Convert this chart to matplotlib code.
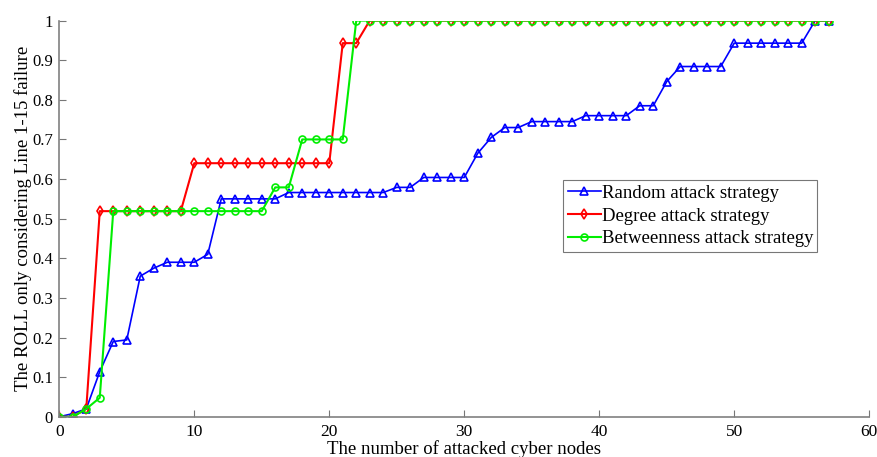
import numpy as np
import matplotlib.pyplot as plt

plt.rcParams['font.family'] = ['Liberation Serif', 'DejaVu Serif']

# attacked cyber nodes
nodes = np.arange(0, 58)

# ROLL values
random_roll = [0, 0.008, 0.02, 0.114, 0.19, 0.194, 0.355, 0.375, 0.39, 0.39,
               0.39, 0.41, 0.55, 0.55, 0.55, 0.55, 0.55, 0.566, 0.566, 0.566,
               0.566, 0.566, 0.566, 0.566, 0.566, 0.579, 0.579, 0.604, 0.604, 0.604,
               0.604, 0.665, 0.705, 0.73, 0.73, 0.745, 0.745, 0.745, 0.745, 0.76,
               0.76, 0.76, 0.76, 0.785, 0.785, 0.846, 0.884, 0.884, 0.884, 0.884,
               0.943, 0.943, 0.943, 0.943, 0.943, 0.943, 1, 1]
degree_roll = [0, 0, 0.02, 0.519, 0.519, 0.519, 0.519, 0.519, 0.519, 0.519,
               0.64, 0.64, 0.64, 0.64, 0.64, 0.64, 0.64, 0.64, 0.64, 0.64,
               0.64, 0.943, 0.943] + [1] * 35
between_roll = [0, 0, 0.02, 0.048, 0.519, 0.519, 0.519, 0.519, 0.519, 0.519,
                0.519, 0.519, 0.519, 0.519, 0.519, 0.519, 0.579, 0.579, 0.70, 0.70,
                0.70, 0.70] + [1] * 36

fig = plt.figure(figsize=(8.78, 4.57), dpi=100)
ax = fig.add_axes([0.0675, 0.088, 0.9225, 0.867])

ax.plot(nodes, random_roll, color='#0000ff', lw=1.2, marker='^', ms=6,
        mfc='none', mew=1.2, label='Random attack strategy')
ax.plot(nodes, degree_roll, color='#ff0000', lw=1.5, marker='d', ms=5,
        mfc='none', mew=1.2, label='Degree attack strategy')
ax.plot(nodes, between_roll, color='#00ee00', lw=1.5, marker='o', ms=5,
        mfc='none', mew=1.2, label='Betweenness attack strategy')

ax.set_xlim(0, 60)
ax.set_ylim(0, 1)
ax.set_xticks(np.arange(0, 61, 10))
ax.set_yticks(np.arange(0, 1.01, 0.1))
ax.set_yticklabels(['0', '0.1', '0.2', '0.3', '0.4', '0.5', '0.6', '0.7', '0.8', '0.9', '1'])
ax.tick_params(direction='in', length=5, labelsize=12, colors='#777777',
               labelcolor='black')
ax.tick_params(axis='x', pad=5.5, labelsize=12.5)
ax.tick_params(axis='y', pad=4.5)
for s in ['top', 'right']:
    ax.spines[s].set_visible(False)
for s in ['left', 'bottom']:
    ax.spines[s].set_color('#808080')
    ax.spines[s].set_linewidth(1.2)

ax.set_xlabel('The number of attacked cyber nodes', fontsize=13.5)
ax.set_ylabel('The ROLL only considering Line 1-15 failure', fontsize=13.5)
ax.xaxis.set_label_coords(0.5, -0.058)
ax.yaxis.set_label_coords(-0.034, 0.5)

leg = ax.legend(loc='lower left', bbox_to_anchor=(0.622, 0.416, 0.314, 0.182),
                mode='expand', fontsize=13.5, frameon=True, fancybox=False,
                borderpad=0.25, labelspacing=0.3, handlelength=1.75,
                handletextpad=0.1, borderaxespad=0)
leg.get_frame().set_edgecolor('#555555')
leg.get_frame().set_linewidth(0.8)

plt.savefig('out.png', dpi=100)
